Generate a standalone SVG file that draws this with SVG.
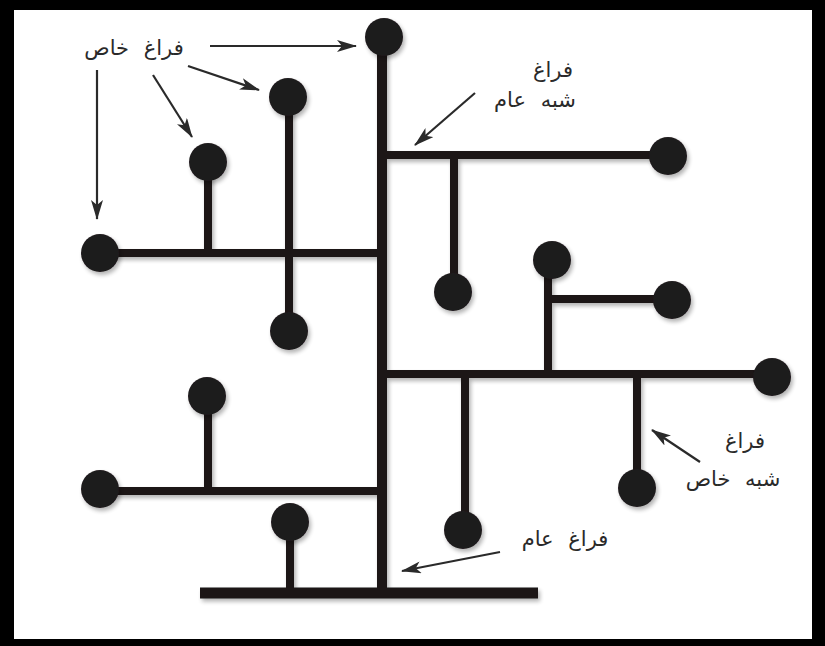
<svg xmlns="http://www.w3.org/2000/svg" width="825" height="646" viewBox="0 0 825 646">
<defs>
<marker id="ah" viewBox="0 0 20 12" refX="19" refY="6" markerWidth="20" markerHeight="12" markerUnits="userSpaceOnUse" orient="auto">
<path d="M0,0 L20,6 L0,12 L5,6 Z" fill="#2a2a2a"/>
</marker>
<filter id="sh" x="-30%" y="-30%" width="160%" height="160%">
<feGaussianBlur in="SourceAlpha" stdDeviation="2"/>
<feOffset dx="2" dy="3"/>
<feComponentTransfer><feFuncA type="linear" slope="0.3"/></feComponentTransfer>
<feMerge><feMergeNode/><feMergeNode in="SourceGraphic"/></feMerge>
</filter>
</defs>
<style>
.ln{stroke:#1a1517;stroke-width:8;fill:none}
.nd{fill:#1f1a1c}
.ar{stroke:#2a2a2a;stroke-width:2.2;fill:none;marker-end:url(#ah)}
.tx{font-family:"DejaVu Sans",sans-serif;font-size:21px;fill:#2a2a2a;text-anchor:middle;direction:rtl;word-spacing:8px}
</style>
<rect x="0" y="0" width="825" height="646" fill="#000"/>
<rect x="14" y="10" width="798" height="629" fill="#fff"/>
<g id="connectors" filter="url(#sh)">
<line class="ln" x1="382" y1="36" x2="382" y2="593" style="stroke-width:10"/>
<line class="ln" x1="100" y1="253" x2="382" y2="253"/>
<line class="ln" x1="208" y1="162" x2="208" y2="253"/>
<line class="ln" x1="289" y1="97" x2="289" y2="332"/>
<line class="ln" x1="382" y1="155" x2="668" y2="155"/>
<line class="ln" x1="454" y1="155" x2="454" y2="292"/>
<line class="ln" x1="382" y1="374" x2="772" y2="374"/>
<line class="ln" x1="548" y1="260" x2="548" y2="374"/>
<line class="ln" x1="548" y1="299" x2="672" y2="299"/>
<line class="ln" x1="465" y1="374" x2="465" y2="530"/>
<line class="ln" x1="637" y1="374" x2="637" y2="488"/>
<line class="ln" x1="100" y1="491" x2="382" y2="491"/>
<line class="ln" x1="208" y1="396" x2="208" y2="491"/>
<line class="ln" x1="290" y1="522" x2="290" y2="593"/>
<line class="ln" x1="200" y1="593" x2="538" y2="593" style="stroke-width:11"/>
</g>
<g id="arrows">
<line class="ar" x1="210" y1="46" x2="356" y2="46"/>
<line class="ar" x1="188" y1="66" x2="259" y2="90"/>
<line class="ar" x1="153" y1="75" x2="192" y2="137"/>
<line class="ar" x1="97" y1="70" x2="97" y2="219"/>
<line class="ar" x1="475" y1="93" x2="415" y2="145"/>
<line class="ar" x1="700" y1="462" x2="652" y2="430"/>
<line class="ar" x1="500" y1="552" x2="402" y2="571"/>
</g>
<g filter="url(#sh)">
<g id="n1"><circle class="nd" cx="384" cy="37" r="19"/></g>
<g id="n2"><circle class="nd" cx="288" cy="97" r="19"/></g>
<g id="n3"><circle class="nd" cx="208" cy="162" r="19"/></g>
<g id="n4"><circle class="nd" cx="100" cy="253" r="19"/></g>
<g id="n5"><circle class="nd" cx="289" cy="331" r="19"/></g>
<g id="n6"><circle class="nd" cx="668" cy="156" r="19"/></g>
<g id="n7"><circle class="nd" cx="453" cy="292" r="19"/></g>
<g id="n8"><circle class="nd" cx="552" cy="260" r="19"/></g>
<g id="n9"><circle class="nd" cx="672" cy="300" r="19"/></g>
<g id="n10"><circle class="nd" cx="772" cy="377" r="19"/></g>
<g id="n11"><circle class="nd" cx="463" cy="530" r="19"/></g>
<g id="n12"><circle class="nd" cx="637" cy="488" r="19"/></g>
<g id="n13"><circle class="nd" cx="207" cy="396" r="19"/></g>
<g id="n14"><circle class="nd" cx="100" cy="489" r="19"/></g>
<g id="n15"><circle class="nd" cx="290" cy="522" r="19"/></g>
</g>
<g id="lbl-private"><text class="tx" x="134" y="55">فراغ خاص</text></g>
<g id="lbl-semipublic"><text class="tx" x="553" y="77">فراغ</text><text class="tx" x="535" y="107">شبه عام</text></g>
<g id="lbl-semiprivate"><text class="tx" x="745" y="448">فراغ</text><text class="tx" x="733" y="486">شبه خاص</text></g>
<g id="lbl-public"><text class="tx" x="565" y="546">فراغ عام</text></g>
</svg>
